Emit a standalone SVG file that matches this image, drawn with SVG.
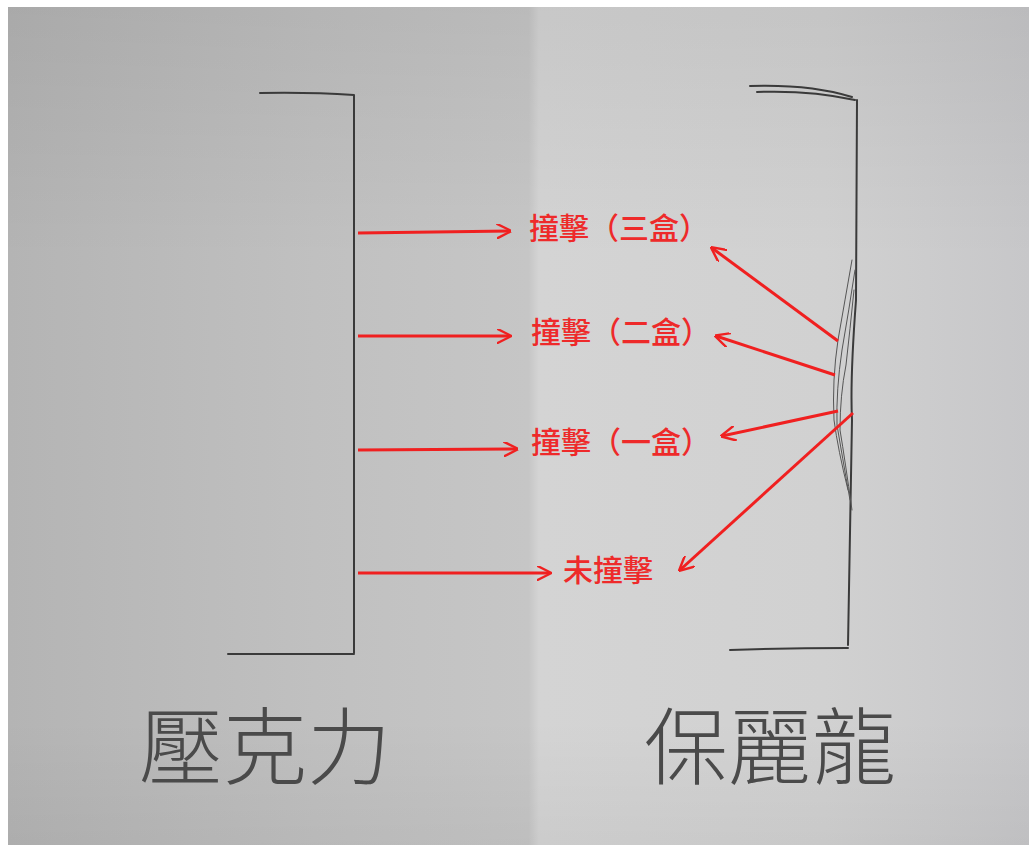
<svg xmlns="http://www.w3.org/2000/svg" width="1029" height="845" viewBox="0 0 1029 845">
<defs>
<linearGradient id="bg" x1="0" y1="0" x2="1" y2="0">
<stop offset="0" stop-color="#b4b4b4"/>
<stop offset="0.3" stop-color="#c0c0c0"/>
<stop offset="0.51" stop-color="#c6c6c6"/>
<stop offset="0.52" stop-color="#d4d4d4"/>
<stop offset="0.8" stop-color="#d1d1d1"/>
<stop offset="1" stop-color="#c7c7c9"/>
</linearGradient>
<linearGradient id="shade" x1="0" y1="0" x2="0" y2="1">
<stop offset="0" stop-color="#000" stop-opacity="0.06"/>
<stop offset="0.3" stop-color="#000" stop-opacity="0"/>
<stop offset="0.85" stop-color="#000" stop-opacity="0"/>
<stop offset="1" stop-color="#000" stop-opacity="0.04"/>
</linearGradient>
<marker id="ah" viewBox="0 0 10 10" refX="9" refY="5" markerWidth="5" markerHeight="5" orient="auto" markerUnits="strokeWidth">
<path d="M0,0 L10,5 L0,10" fill="none" stroke="#f02020" stroke-width="1.6"/>
</marker>
<style>
.pen{fill:none;stroke:#3a3a3a;stroke-width:2;stroke-linecap:round;stroke-linejoin:round}
.pen2{fill:none;stroke:#555;stroke-width:1;stroke-linecap:round}
.arr{fill:none;stroke:#f02020;stroke-width:3;marker-end:url(#ah)}
.lbl{font-family:"Noto Sans CJK TC","Noto Sans CJK SC",sans-serif;font-size:30px;font-weight:500;fill:#ee2a2a;text-anchor:middle}
.hand{font-family:"Noto Sans CJK TC","Noto Sans CJK SC",sans-serif;font-size:84px;font-weight:200;fill:#4a4a4a;text-anchor:middle}
</style>
</defs>
<rect width="1029" height="845" fill="#ffffff"/>
<rect x="8" y="7" width="1021" height="838" fill="url(#bg)"/>
<rect x="8" y="7" width="1021" height="838" fill="url(#shade)"/>

<g id="left-bracket">
<path class="pen" d="M260,93 Q310,92 354,95 L354,653 M228,654 L354,654"/>
</g>

<g id="right-bracket">
<path class="pen" d="M750,86 Q810,84 852,97 M757,92 Q810,90 855,100"/>
<path class="pen" d="M857,100 L856,300 Q850,380 852,420 L848,645"/>
<path class="pen2" d="M852,260 Q845,300 838,340 Q832,380 834,420 Q838,450 848,490"/>
<path class="pen2" d="M855,270 Q849,310 842,350 Q836,390 837,425 Q842,455 850,500"/>
<path class="pen2" d="M854,290 Q850,330 846,365 Q840,395 840,430 Q845,460 852,510"/>
<path class="pen" d="M730,650 Q790,648 848,648"/>
</g>

<g id="connectors">
<line class="arr" x1="358" y1="233" x2="510" y2="231"/>
<line class="arr" x1="358" y1="336" x2="510" y2="336"/>
<line class="arr" x1="358" y1="450" x2="517" y2="449"/>
<line class="arr" x1="358" y1="573" x2="550" y2="573"/>
<line class="arr" x1="838" y1="341" x2="712" y2="248"/>
<line class="arr" x1="835" y1="375" x2="716" y2="336"/>
<line class="arr" x1="838" y1="411" x2="722" y2="436"/>
<line class="arr" x1="853" y1="413" x2="680" y2="570"/>
</g>

<g id="label-3"><text class="lbl" x="619" y="239">撞擊（三盒）</text></g>
<g id="label-2"><text class="lbl" x="621" y="343">撞擊（二盒）</text></g>
<g id="label-1"><text class="lbl" x="621" y="453">撞擊（一盒）</text></g>
<g id="label-0"><text class="lbl" x="608" y="581">未撞擊</text></g>

<g id="acrylic"><text class="hand" x="265" y="778">壓克力</text></g>
<g id="styrofoam"><text class="hand" x="770" y="778">保麗龍</text></g>
</svg>
